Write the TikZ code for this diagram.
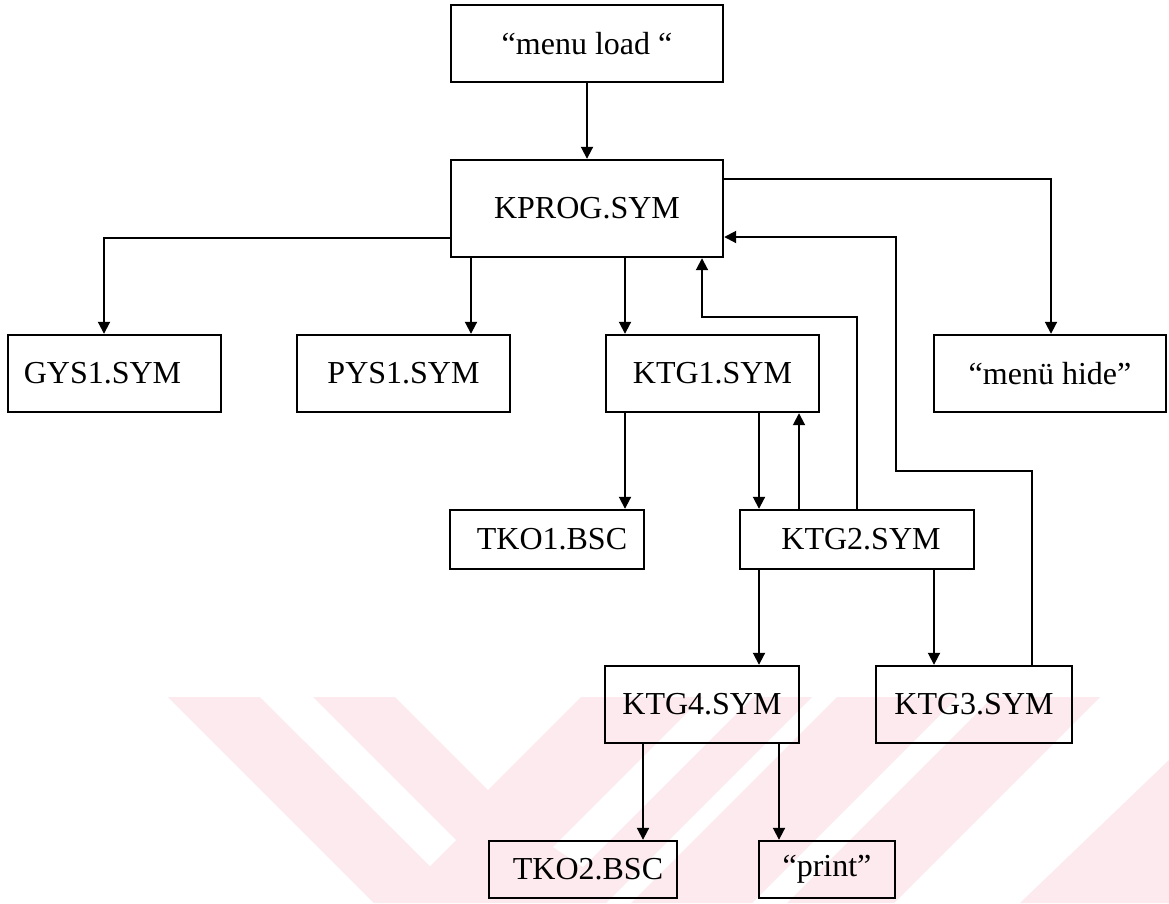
\documentclass[tikz,border=0pt]{standalone}
\usepackage{fontspec}
\setmainfont{Liberation Serif}
\usetikzlibrary{arrows.meta,calc}
\definecolor{wm}{RGB}{252,234,238}
\begin{document}
\begin{tikzpicture}[x=1pt,y=-1pt,
  box/.style n args={2}{draw, line width=2.4pt, minimum width=#1, minimum height=#2,
    inner sep=0pt, font=\fontsize{32}{38}\selectfont},
  arr/.style={line width=1.9pt, -{Triangle[length=12pt,width=12pt]}}]
\useasboundingbox (0,0) rectangle (1169,903);
\fill[white] (0,0) rectangle (1169,903);
% faint watermark
\fill[wm] (168,697) -- (395,697) -- (488,790) -- (581,697) -- (812,697) -- (606,903) -- (374,903) -- cycle;
\fill[white] (260,697) -- (313,697) -- (456,840) -- (430,866) -- cycle;
\fill[white] (703,697) -- (753,697) -- (583,867) -- (553,847) -- cycle;
\fill[wm] (837,697) -- (958,697) -- (752,903) -- (631,903) -- cycle;
\fill[wm] (993,697) -- (1100,697) -- (894,903) -- (787,903) -- cycle;
\fill[wm] (1020,903) -- (1169,903) -- (1169,760) -- cycle;
% boxes
\node[box={272}{77}] (load) at (587,43.5) {“menu load “};
\node[box={272}{97}] (kprog) at (587,208.5) {KPROG.SYM};
\node[box={213}{77}] (gys) at (114.5,373.5) {GYS1.SYM\hspace*{24pt}};
\node[box={213}{77}] (pys) at (403.5,373.5) {PYS1.SYM};
\node[box={213}{77}] (ktg1) at (712.5,373.5) {KTG1.SYM};
\node[box={232}{77}] (hide) at (1050,373.5) {“menü hide”};
\node[box={194}{59}] (tko1) at (547,539.5) {\hspace*{10pt}TKO1.BSC};
\node[box={234}{59}] (ktg2) at (857,539.5) {\hspace*{8pt}KTG2.SYM};
\node[box={194}{77}] (ktg4) at (702,704.5) {KTG4.SYM};
\node[box={196}{77}] (ktg3) at (974,704.5) {KTG3.SYM};
\node[box={188}{57}] (tko2) at (583,869.5) {\hspace*{10pt}TKO2.BSC};
\node[box={136}{57}] (print) at (827,869.5) {“print”};
% connectors
\draw[arr] (load.south) -- (kprog.north);
\draw[arr] (kprog.west |- 0,238) -| (gys.north -| 104,0);
\draw[arr] (kprog.south -| 471,0) -- (pys.north -| 471,0);
\draw[arr] (kprog.south -| 625,0) -- (ktg1.north -| 625,0);
\draw[arr] (kprog.east |- 0,179) -| (hide.north -| 1051,0);
\coordinate (b1) at (702,317);
\draw[arr] (ktg2.north -| 857,0) |- (b1) -- (kprog.south -| b1);
\coordinate (b2) at (896,471);
\draw[arr] (ktg3.north -| 1032,0) |- (b2) |- (kprog.east |- 0,237);
\draw[arr] (ktg1.south -| 625,0) -- (tko1.north -| 625,0);
\draw[arr] (ktg1.south -| 759,0) -- (ktg2.north -| 759,0);
\draw[arr] (ktg2.north -| 799,0) -- (ktg1.south -| 799,0);
\draw[arr] (ktg2.south -| 759,0) -- (ktg4.north -| 759,0);
\draw[arr] (ktg2.south -| 934,0) -- (ktg3.north -| 934,0);
\draw[arr] (ktg4.south -| 643,0) -- (tko2.north -| 643,0);
\draw[arr] (ktg4.south -| 779,0) -- (print.north -| 779,0);
\end{tikzpicture}
\end{document}
